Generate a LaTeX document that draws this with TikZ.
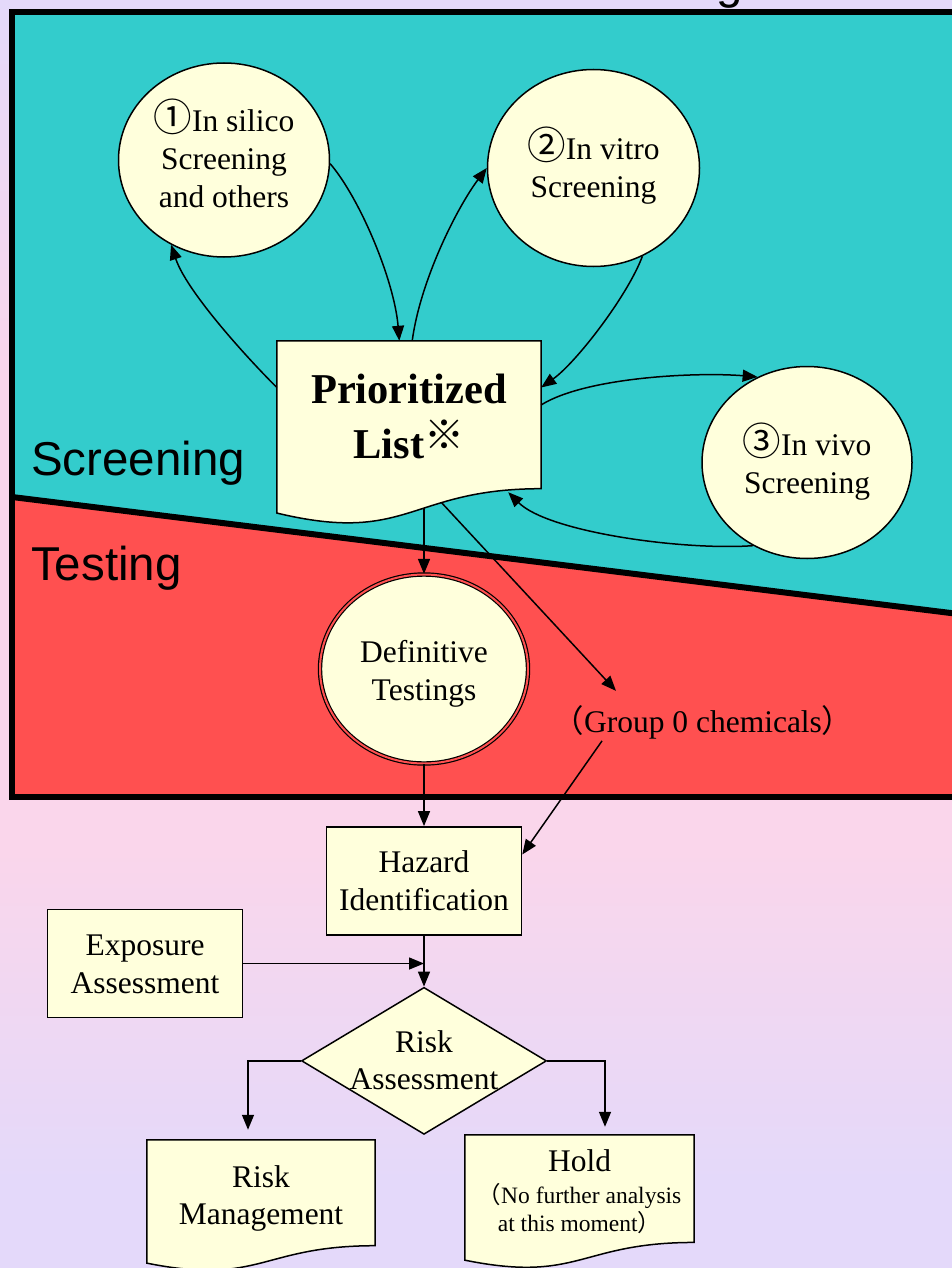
\documentclass[tikz,border=0pt]{standalone}
\usepackage{fontspec}
\setmainfont{Liberation Serif}
\newfontfamily\zonefont{Liberation Sans}
\newfontfamily\cjk{Noto Sans CJK JP}
\usetikzlibrary{positioning,calc,arrows.meta,shapes.geometric}

\definecolor{screencyan}{RGB}{51,204,204}
\definecolor{testred}{RGB}{255,80,80}
\definecolor{cream}{RGB}{255,255,220}
\definecolor{lilac}{RGB}{228,217,250}
\definecolor{blush}{RGB}{250,214,235}

\pgfdeclarelayer{background}
\pgfdeclarelayer{wires}
\pgfdeclarelayer{shapes}
\pgfsetlayers{background,wires,shapes,main}

% text block whose last baseline sits #1 from the node centre
\newcommand{\pinlines}[2]{\raisebox{#1}[0pt][0pt]{\begin{tabular}[b]{@{}c@{}}#2\end{tabular}}}
% circled step number
\newcommand{\stepno}[1]{{\cjk\fontsize{38.5}{38}\selectfont #1}}
% wavy "document" outline round a rectangle node
\newcommand{\docoutline}[1]{%
  \filldraw[fill=cream, draw=black, line width=1.5pt]
    (#1.north west) -- (#1.north east)
    -- ($(#1.north east)!0.802!(#1.south east)$)
    .. controls ($(#1.north)!0.802!(#1.south)$) and ($(#1.north)!1.107!(#1.south)$)
    .. ($(#1.north west)!0.934!(#1.south west)$) -- cycle;}

\begin{document}
\begin{tikzpicture}[x=1pt, y=-1pt,
    node distance=62pt,
    screen/.style={ellipse, draw, fill=cream, line width=1.5pt, inner sep=0pt,
      minimum width=211pt, minimum height=194pt, font=\fontsize{31.5}{38}\selectfont},
    definitive/.style={screen, double=testred, double distance=2pt, line width=1.2pt,
      minimum width=208pt, minimum height=189pt},
    docbox/.style={rectangle, inner sep=0pt, minimum width=228pt,
      font=\fontsize{31.5}{37}\selectfont},
    proc/.style={rectangle, draw, fill=cream, line width=1.5pt, inner sep=0pt,
      minimum width=195pt, minimum height=108pt, font=\fontsize{31.5}{38}\selectfont},
    decide/.style={diamond, aspect=1.67, draw, fill=cream, line width=1.5pt, inner sep=0pt,
      minimum width=245pt, minimum height=147pt, font=\fontsize{31.5}{37}\selectfont},
    zone/.style={font=\zonefont\fontsize{47.5}{52}\selectfont, inner sep=0pt, anchor=base west},
    lbl/.style={font=\fontsize{31.5}{38}\selectfont, inner sep=2pt},
    flow/.style={-{Triangle[length=15pt, width=12pt]}, line width=1.5pt}
  ]

  \useasboundingbox (0,0) rectangle (952,1268);

  % ===== Background, zones and frame =====
  \begin{pgfonlayer}{background}
    \shade[top color=lilac, bottom color=blush] (0,0) rectangle (952,381);
    \fill[blush] (0,380) rectangle (952,851);
    \shade[top color=blush, bottom color=lilac] (0,850) rectangle (952,1181);
    \fill[lilac] (0,1180) rectangle (952,1268);
    \fill[screencyan] (12,12) -- (975,12) -- (975,616) -- (12,497) -- cycle;
    \fill[testred] (12,497) -- (975,616) -- (975,797) -- (12,797) -- cycle;
    \draw[line width=6pt] (12,497) -- (975,616);
    \draw[line width=6pt] (12,12) rectangle (975,797);
  \end{pgfonlayer}

  \node[zone] (titletail) at (716,-1) {g};
  \node[zone] (scrlbl) at (31,475) {Screening};
  \node[zone] (tstlbl) at (31,580) {Testing};

  % ===== Screening =====
  \node[screen] (silico) at (224,160)
    {\pinlines{-48pt}{\stepno{①}In silico\\Screening\\and others}};
  \node[screen, minimum width=212pt, minimum height=197pt] (vitro) at (593.5,168)
    {\pinlines{-29pt}{\stepno{②}In vitro\\Screening}};
  \node[screen, minimum width=210pt, minimum height=192pt] (vivo) at (807,462.5)
    {\pinlines{-30.5pt}{\stepno{③}In vivo\\Screening}};
  \node[docbox, minimum width=264pt, minimum height=184pt,
        font=\fontsize{42.5}{53}\selectfont\bfseries] (plist) at (409,433)
    {\pinlines{-25pt}{Prioritized\\List\raisebox{9pt}{\cjk\fontsize{40}{40}\selectfont ※}}};

  % ===== Testing =====
  \node[definitive] (defin) at (424,669) {\pinlines{-31pt}{Definitive\\Testings}};
  \node[lbl, anchor=base] (grp) at (703,732) {{\cjk （}Group 0 chemicals{\cjk ）}};

  % ===== Assessment =====
  \node[proc, below=62pt of defin] (hazard) {\pinlines{-29.5pt}{Hazard\\Identification}};
  \node[proc] (expo) at (145,963.5) {\pinlines{-29.5pt}{Exposure\\Assessment}};
  \node[decide, below=51pt of hazard] (risk) {\pinlines{-29pt}{Risk\\Assessment}};
  \node[docbox, minimum height=131.7pt] (manage) at (261,1205.8)
    {\pinlines{-19pt}{Risk\\Management}};
  \node[docbox, minimum width=229pt, minimum height=133.8pt,
        font=\fontsize{23.5}{26}\selectfont] (hold) at (579.5,1201.9)
    {\pinlines{-30pt}{{\fontsize{31.5}{38}\selectfont Hold}\\[5pt]
      {\cjk （}No further analysis\\at this moment{\cjk ）}}};

  % document outlines under the texts
  \begin{pgfonlayer}{shapes}
    \docoutline{plist}
    \docoutline{manage}
    \docoutline{hold}
  \end{pgfonlayer}

  % ===== Screening loop =====
  \draw[flow] (plist.161) .. controls +(-35,-35) and +(15,45) .. (silico.238);
  \draw[flow] (silico.-2) .. controls +(30,35) and +(-5,-60) .. (plist.96);
  \draw[flow] (plist.88) .. controls +(8,-60) and +(-30,40) .. (vitro.180);
  \draw[flow] (vitro.-61) .. controls +(-15,40) and +(35,-25) .. (plist.19);
  \draw[flow] (plist.12) .. controls +(45,-28) and +(-60,-5) .. (vivo.120);
  \draw[flow] (vivo.237) .. controls +(-70,5) and +(40,40)
    .. ([xshift=-33pt, yshift=33pt]plist.south east);

  % ===== Screening to testing (start hidden under the list) =====
  \begin{pgfonlayer}{wires}
    \draw[flow] (plist.center -| defin.north) -- (defin.north);
    \draw[flow] ([xshift=-32pt]plist.center) -- ([xshift=-87pt, yshift=12pt]grp.north);
  \end{pgfonlayer}

  % ===== Testing to assessment =====
  \draw[flow] (defin.south) -- (hazard.north);
  \draw[flow] ([xshift=-101pt]grp.south) -- (hazard.15);
  \draw[flow] (hazard.south) -- (risk.north);
  \draw[flow] (expo.east) -- (expo.east -| hazard.south);
  \draw[flow, shorten >=10pt] (risk.west) -| ([xshift=-13pt]manage.north);
  \draw[flow, shorten >=8pt] (risk.east) -| ([xshift=25.5pt]hold.north);

\end{tikzpicture}
\end{document}
